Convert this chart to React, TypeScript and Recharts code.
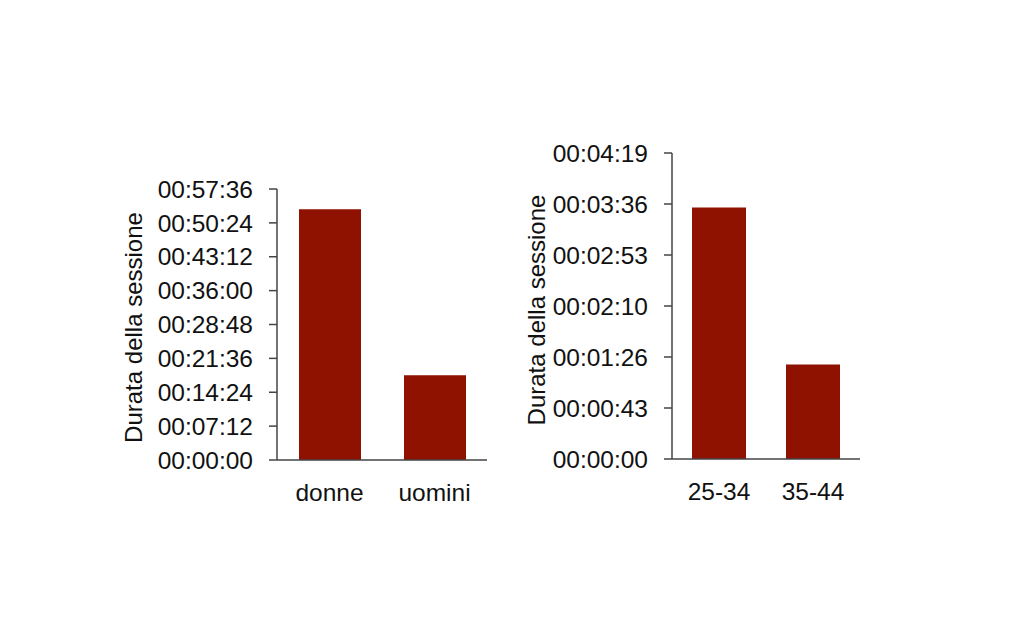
import React from 'react';
import { BarChart, Bar, XAxis, YAxis, Label } from 'recharts';

const genderCategories = ['donne', 'uomini'];
const genderDurationSec = [3197, 1080];
const genderTicks = [0, 432, 864, 1296, 1728, 2160, 2592, 3024, 3456];

const ageCategories = ['25-34', '35-44'];
const ageDurationSec = [213, 80];
const ageTicks = [0, 43.2, 86.4, 129.6, 172.8, 216, 259.2];

const yLabel = 'Durata della sessione';

const genderData = genderCategories.map((c, i) => ({ cat: c, val: genderDurationSec[i] }));
const ageData = ageCategories.map((c, i) => ({ cat: c, val: ageDurationSec[i] }));

const pad = (n: number) => (n < 10 ? '0' + n : '' + n);
const fmt = (v: number) => {
  const s = Math.round(v);
  const h = Math.floor(s / 3600);
  const m = Math.floor((s % 3600) / 60);
  const sec = s % 60;
  return `${pad(h)}:${pad(m)}:${pad(sec)}`;
};

const FONT = 'Liberation Sans, Arial, Helvetica, sans-serif';
const BAR = '#8f1100';
const AXIS = '#444';
const tickStyle = { fontSize: 24.5, fill: '#111', fontFamily: FONT };

type P = {
  data: { cat: string; val: number }[];
  ticks: number[];
  width: number;
  margin: { top: number; left: number; right: number; bottom: number };
  barSize: number;
  dx: number;
  dy: number;
};

function Panel({ data, ticks, width, margin, barSize, dx, dy }: P) {
  return (
    <BarChart width={width} height={640} data={data} margin={margin} barSize={barSize}>
      <XAxis
        dataKey="cat"
        tickLine={false}
        axisLine={{ stroke: AXIS, strokeWidth: 1.5 }}
        tick={tickStyle}
        tickSize={0}
        tickMargin={24}
        height={30}
        interval={0}
      />
      <YAxis
        type="number"
        domain={[ticks[0], ticks[ticks.length - 1]]}
        ticks={ticks}
        interval={0}
        tickFormatter={fmt}
        width={100}
        tickSize={8}
        tickMargin={16}
        tick={tickStyle}
        tickLine={{ stroke: AXIS, strokeWidth: 1.5 }}
        axisLine={{ stroke: AXIS, strokeWidth: 1.5 }}
      >
        <Label
          value={yLabel}
          angle={-90}
          position="center"
          dx={dx}
          dy={dy}
          style={{ fontSize: 24, fill: '#111', fontFamily: FONT, textAnchor: 'middle' }}
        />
      </YAxis>
      <Bar dataKey="val" fill={BAR} isAnimationActive={false} />
    </BarChart>
  );
}

export default function App() {
  return (
    <div style={{ position: 'absolute', left: 0, top: 0, width: 1024, height: 640, background: '#fff' }}>
      <div style={{ position: 'absolute', left: 0, top: 0 }}>
        <Panel
          data={genderData}
          ticks={genderTicks}
          width={520}
          margin={{ top: 189, left: 177, right: 33, bottom: 150 }}
          barSize={62}
          dx={-94}
          dy={3}
        />
      </div>
      <div style={{ position: 'absolute', left: 520, top: 0 }}>
        <Panel
          data={ageData}
          ticks={ageTicks}
          width={504}
          margin={{ top: 153, left: 52, right: 164, bottom: 151 }}
          barSize={54}
          dx={-86}
          dy={4}
        />
      </div>
    </div>
  );
}
